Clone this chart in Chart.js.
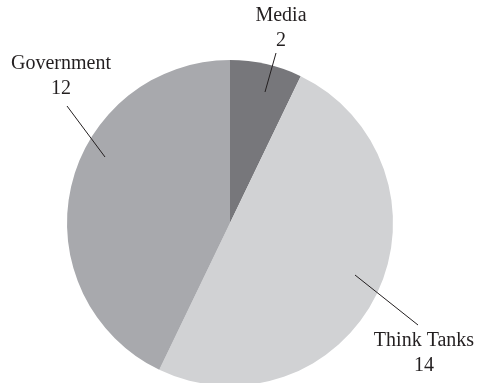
<!DOCTYPE html>
<html>
<head>
<meta charset="utf-8">
<script src="https://cdn.jsdelivr.net/npm/chart.js@4/dist/chart.umd.min.js"></script>
<style>
  html, body { margin: 0; padding: 0; background: #fff; overflow: hidden; }
  #wrap { width: 478px; height: 446px; }
</style>
</head>
<body>
<div id="wrap"><canvas id="pie" width="478" height="446"></canvas></div>
<script>
const categories = ['Media', 'Think Tanks', 'Government'];
const counts = [2, 14, 12];
const sliceColors = ['#77777b', '#d1d2d4', '#a8a9ad'];

// callout placement, offsets from the pie centre: [lineStart, lineEnd, textCentre]
const callouts = [
    { from: [35, -131], to: [46, -170], text: [51, -207] },
    { from: [125, 52], to: [188, 102], text: [194, 118] },
    { from: [-125, -66], to: [-163, -117], text: [-169, -159] }
];

const calloutPlugin = {
    id: 'callouts',
    afterDraw(chart) {
        const ctx = chart.ctx;
        const meta = chart.getDatasetMeta(0);
        ctx.save();
        ctx.font = '20px "Liberation Serif", serif';
        ctx.fillStyle = '#231f20';
        ctx.strokeStyle = '#231f20';
        ctx.lineWidth = 1;
        ctx.textAlign = 'center';
        ctx.textBaseline = 'middle';
        meta.data.forEach(function (arc, i) {
            const c = callouts[i];
            const cx = arc.x, cy = arc.y;
            ctx.beginPath();
            ctx.moveTo(cx + c.from[0], cy + c.from[1]);
            ctx.lineTo(cx + c.to[0], cy + c.to[1]);
            ctx.stroke();
            ctx.fillText(categories[i], cx + c.text[0], cy + c.text[1]);
            ctx.fillText(String(counts[i]), cx + c.text[0], cy + c.text[1] + 25);
        });
        ctx.restore();
    }
};

new Chart(document.getElementById('pie'), {
    type: 'pie',
    data: {
        labels: categories,
        datasets: [{
            data: counts,
            backgroundColor: sliceColors,
            borderWidth: 0
        }]
    },
    options: {
        responsive: false,
        animation: false,
        layout: { padding: { left: 67, right: 85, top: 60, bottom: 60 } },
        plugins: {
            legend: { display: false },
            tooltip: { enabled: false }
        }
    },
    plugins: [calloutPlugin]
});
</script>
</body>
</html>
